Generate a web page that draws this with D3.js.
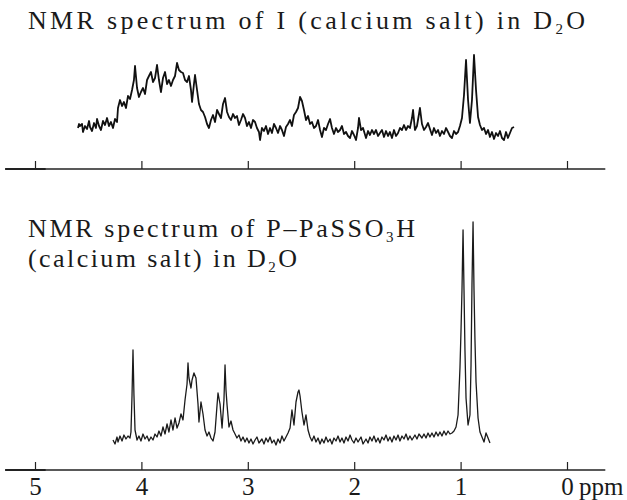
<!DOCTYPE html>
<html>
<head>
<meta charset="UTF-8" />
<title>NMR spectra</title>
<script src="https://cdn.jsdelivr.net/npm/d3@7"></script>
<style>
  body { margin: 0; background: #fff; }
  svg { display: block; }
  .title { font-family: 'Liberation Serif', 'DejaVu Serif', serif; font-size: 26px; fill: #1a1a1a; }
  .tick text, .unit { font-family: 'Liberation Serif', 'DejaVu Serif', serif; font-size: 25px; fill: #1a1a1a; }
</style>
</head>
<body>
<div id="chart"></div>
<script>
  // axis ticks (ppm)
  const ppmTicks = [5, 4, 3, 2, 1, 0]

  // spectrum of I (calcium salt) in D2O : [ppm, intensity]
  const spectrumI = [
    [4.596,12],[4.586,16],[4.577,14],[4.558,16],[4.549,8],[4.530,14],[4.511,11],[4.492,19],[4.483,13],[4.464,9],
    [4.445,17],[4.427,12],[4.417,21],[4.398,14],[4.380,10],[4.361,19],[4.342,15],[4.323,22],[4.305,14],[4.286,18],
    [4.267,12],[4.248,21],[4.229,18],[4.220,32],[4.201,40],[4.182,34],[4.164,38],[4.145,32],[4.126,44],[4.107,41],
    [4.088,50],[4.070,60],[4.060,74],[4.041,52],[4.023,43],[4.004,48],[3.985,52],[3.966,46],[3.947,60],[3.929,64],
    [3.910,68],[3.891,58],[3.872,62],[3.853,75],[3.835,60],[3.816,48],[3.797,62],[3.778,68],[3.759,56],[3.741,60],
    [3.722,54],[3.703,60],[3.684,64],[3.665,77],[3.647,70],[3.628,68],[3.609,67],[3.590,60],[3.571,58],[3.553,64],
    [3.534,50],[3.524,38],[3.506,56],[3.496,65],[3.477,50],[3.459,36],[3.440,30],[3.421,28],[3.402,23],[3.383,16],
    [3.365,12],[3.346,20],[3.327,25],[3.308,18],[3.289,30],[3.271,26],[3.252,22],[3.233,36],[3.214,42],[3.195,28],
    [3.177,23],[3.158,20],[3.139,26],[3.120,22],[3.102,24],[3.083,15],[3.064,20],[3.045,26],[3.026,22],[3.008,14],
    [2.989,18],[2.970,12],[2.951,20],[2.932,18],[2.914,12],[2.895,8],[2.885,0],[2.867,12],[2.848,9],[2.829,14],
    [2.810,6],[2.791,12],[2.773,7],[2.754,16],[2.735,12],[2.716,7],[2.697,14],[2.679,10],[2.660,4],[2.641,13],
    [2.622,16],[2.603,20],[2.585,14],[2.566,25],[2.547,28],[2.528,32],[2.509,43],[2.491,39],[2.472,30],[2.453,20],
    [2.434,24],[2.415,16],[2.397,18],[2.378,12],[2.359,14],[2.340,20],[2.321,10],[2.303,3],[2.284,12],[2.265,10],
    [2.246,16],[2.227,21],[2.209,12],[2.190,6],[2.171,12],[2.152,8],[2.133,10],[2.115,14],[2.096,6],[2.077,8],
    [2.058,4],[2.039,2],[2.021,9],[2.002,5],[1.983,0],[1.964,12],[1.955,22],[1.936,10],[1.917,12],[1.889,2],
    [1.870,9],[1.852,5],[1.833,10],[1.814,6],[1.795,10],[1.776,4],[1.758,7],[1.739,10],[1.720,3],[1.701,9],
    [1.682,4],[1.664,8],[1.645,2],[1.626,10],[1.607,4],[1.588,7],[1.570,12],[1.551,10],[1.532,15],[1.513,10],
    [1.494,14],[1.476,12],[1.457,22],[1.447,30],[1.429,10],[1.410,14],[1.391,26],[1.382,32],[1.363,16],[1.344,10],
    [1.325,13],[1.306,17],[1.288,11],[1.269,5],[1.250,12],[1.231,7],[1.212,10],[1.194,4],[1.175,9],[1.156,6],
    [1.137,12],[1.118,8],[1.100,4],[1.081,2],[1.062,9],[1.043,6],[1.024,8],[1.006,14],[0.987,22],[0.968,45],
    [0.949,80],[0.930,40],[0.912,17],[0.893,40],[0.874,85],[0.855,50],[0.836,23],[0.818,15],[0.799,10],[0.780,12],
    [0.761,6],[0.742,10],[0.724,3],[0.705,8],[0.686,1],[0.667,7],[0.648,4],[0.630,9],[0.611,2],[0.592,0],
    [0.573,8],[0.555,2],[0.536,7],[0.517,12],[0.498,13]
  ]

  // spectrum of P-PaSSO3H (calcium salt) in D2O : [ppm, intensity]
  const spectrumP = [
    [4.267,10],[4.248,6],[4.229,13],[4.220,8],[4.201,14],[4.182,9],[4.164,15],[4.145,11],[4.126,14],[4.107,12],
    [4.098,18],[4.088,55],[4.079,100],[4.070,55],[4.060,20],[4.041,10],[4.023,14],[4.004,9],[3.985,16],[3.966,11],
    [3.947,14],[3.929,9],[3.910,13],[3.891,10],[3.872,16],[3.853,13],[3.835,19],[3.816,14],[3.797,23],[3.778,16],
    [3.759,26],[3.741,18],[3.722,30],[3.703,20],[3.684,32],[3.665,22],[3.647,27],[3.628,36],[3.609,30],[3.590,50],
    [3.571,66],[3.562,87],[3.553,72],[3.534,62],[3.524,70],[3.506,77],[3.487,72],[3.468,46],[3.459,28],[3.440,48],
    [3.421,36],[3.402,20],[3.383,14],[3.365,18],[3.346,12],[3.327,9],[3.308,18],[3.289,45],[3.280,57],[3.261,46],
    [3.242,22],[3.224,50],[3.214,85],[3.205,60],[3.195,45],[3.177,23],[3.158,29],[3.139,20],[3.120,16],[3.102,12],
    [3.083,15],[3.064,9],[3.045,13],[3.026,8],[3.008,12],[2.989,7],[2.970,11],[2.951,6],[2.932,10],[2.914,13],
    [2.895,7],[2.867,11],[2.848,6],[2.829,12],[2.810,8],[2.791,13],[2.773,7],[2.754,10],[2.735,5],[2.716,11],
    [2.697,7],[2.679,14],[2.660,9],[2.641,13],[2.622,17],[2.603,22],[2.585,40],[2.566,25],[2.547,48],[2.528,58],
    [2.519,60],[2.509,54],[2.491,38],[2.472,25],[2.453,35],[2.434,20],[2.415,13],[2.397,9],[2.378,14],[2.359,8],
    [2.340,12],[2.321,6],[2.303,11],[2.284,7],[2.265,13],[2.246,8],[2.227,11],[2.209,6],[2.190,12],[2.171,9],
    [2.152,14],[2.133,8],[2.115,12],[2.096,7],[2.077,13],[2.058,9],[2.039,15],[2.021,10],[2.002,7],[1.983,12],
    [1.964,8],[1.936,13],[1.917,6],[1.889,11],[1.870,7],[1.852,13],[1.833,9],[1.814,14],[1.795,8],[1.776,12],
    [1.758,7],[1.739,13],[1.720,10],[1.701,15],[1.682,9],[1.664,13],[1.645,8],[1.626,14],[1.607,10],[1.588,15],
    [1.570,9],[1.551,14],[1.532,11],[1.513,16],[1.494,10],[1.476,14],[1.457,10],[1.429,15],[1.410,11],[1.391,16],
    [1.363,12],[1.344,16],[1.325,12],[1.306,17],[1.288,13],[1.269,17],[1.250,13],[1.231,18],[1.212,14],[1.194,18],
    [1.175,14],[1.156,19],[1.137,15],[1.118,19],[1.100,16],[1.081,17],[1.062,19],[1.043,23],[1.024,35],[1.006,82],
    [0.996,120],[0.987,160],[0.977,220],[0.968,160],[0.959,100],[0.949,52],[0.930,25],[0.912,35],[0.902,85],[0.893,165],
    [0.883,228],[0.874,160],[0.865,110],[0.855,68],[0.836,32],[0.818,18],[0.799,13],[0.780,8],[0.761,17],[0.742,12],
    [0.724,7]
  ]

  const width = 627
  const height = 500

  const svg = d3.select('#chart').append('svg')
    .attr('width', width)
    .attr('height', height)

  // shared chemical shift scale (ppm decreases to the right)
  const x = d3.scaleLinear().domain([5, 0]).range([35, 567])

  const yTop = d3.scaleLinear().domain([0, 85]).range([140, 55])
  const yBottom = d3.scaleLinear().domain([0, 228]).range([450, 222])

  // titles, with subscripts
  function title(parts, xPos, yPos, len) {
    const t = svg.append('text').attr('class', 'title')
      .attr('x', xPos).attr('y', yPos)
      .attr('textLength', len).attr('lengthAdjust', 'spacing')
    parts.forEach(([txt, sub]) => {
      if (sub) {
        t.append('tspan').attr('dy', 5).style('font-size', '15px').text(txt)
      } else {
        t.append('tspan').attr('dy', t.selectAll('tspan').size() ? -5 : 0).text(txt)
      }
    })
  }
  title([['NMR  spectrum of I (calcium salt) in D'], ['2', true], ['O']], 28, 34, 557)
  title([['NMR spectrum of P\u2013PaSSO'], ['3', true], ['H']], 28, 242, 387)
  title([['(calcium salt)  in  D'], ['2', true], ['O']], 28, 272, 269)

  // axes
  function drawAxis(yPos, labels) {
    const g = svg.append('g').attr('transform', `translate(0,${yPos})`)
    g.append('line')
      .attr('x1', x(5.28)).attr('x2', x(-0.36))
      .attr('stroke', '#222').attr('stroke-width', 1.4)
    g.append('line')
      .attr('x1', x(5.28)).attr('x2', x(4.9))
      .attr('stroke', '#222').attr('stroke-width', 2.2)
    const axis = d3.axisBottom(x).tickValues(ppmTicks)
      .tickSizeInner(-8).tickSizeOuter(0)
      .tickFormat(labels ? d3.format('d') : () => '')
    const a = g.append('g').call(axis)
      .attr('font-family', "'Liberation Serif', 'DejaVu Serif', serif")
    a.select('.domain').remove()
    a.selectAll('.tick line').attr('stroke', '#222').attr('stroke-width', 1.2)
    if (labels) {
      a.selectAll('.tick text').attr('y', 25).attr('dy', 0)
      g.append('text').attr('class', 'unit')
        .attr('x', x(0) + 12).attr('y', 25)
        .text('ppm')
    }
  }
  drawAxis(169, false)
  drawAxis(470, true)

  // spectra
  const lineTop = d3.line().x(d => x(d[0])).y(d => yTop(d[1]))
  const lineBottom = d3.line().x(d => x(d[0])).y(d => yBottom(d[1]))

  svg.append('path').datum(spectrumI)
    .attr('d', lineTop)
    .attr('fill', 'none').attr('stroke', '#111')
    .attr('stroke-width', 1.8).attr('stroke-linejoin', 'round')

  svg.append('path').datum(spectrumP)
    .attr('d', lineBottom)
    .attr('fill', 'none').attr('stroke', '#1a1a1a')
    .attr('stroke-width', 1.3).attr('stroke-linejoin', 'round')
</script>
</body>
</html>
